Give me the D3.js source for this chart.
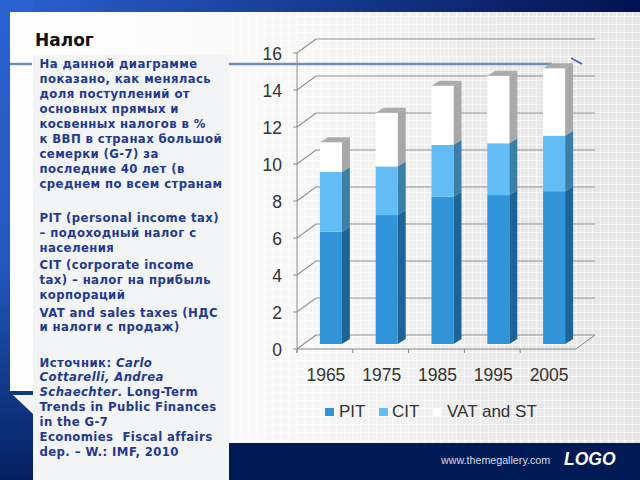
<!DOCTYPE html>
<html><head><meta charset="utf-8">
<script src="https://cdn.jsdelivr.net/npm/d3@7"></script>
<style>html,body{margin:0;padding:0;background:#fff}svg{display:block}</style>
</head><body><svg id="c" width="640" height="480"></svg>
<script>
const years = ["1965","1975","1985","1995","2005"];
const seriesNames = ["PIT","CIT","VAT and ST"];
const pit = [6.07,6.97,7.96,8.05,8.26];
const cit = [3.23,2.63,2.81,2.8,3.0];
const vat = [1.6,2.9,3.19,3.65,3.64];
const yTicks = [0,2,4,6,8,10,12,14,16];
const textBlocks = [
 [64,"На данной диаграмме"],[79,"показано, как менялась"],[94,"доля поступлений от"],[109,"основных прямых и"],[124,"косвенных налогов в %"],[139,"к ВВП в странах большой"],[154,"семерки (G-7) за"],[169,"последние 40 лет (в"],[184,"среднем по всем странам"],
 [218,"PIT (personal income tax)"],[233,"– подоходный налог с"],[248,"населения"],
 [265,"CIT (corporate income"],[280,"tax) – налог на прибыль"],[295,"корпораций"],
 [313,"VAT and sales taxes (НДС"],[327,"и налоги с продаж)"],
 [363,"Источник: |Carlo"],[377,"|Cottarelli, Andrea"],[392,"|Schaechter|. Long-Term"],[407,"Trends in Public Finances"],[422,"in the G-7"],[437,"Economies  Fiscal affairs"],[452,"dep. – W.: IMF, 2010"]
];
const colors = ["#3194d9","#62bdf7","#ffffff"];
const sideColors = ["#1d6396","#3b7ea8","#a8a8a8"];
const svg = d3.select("#c"), defs = svg.append("defs");
const g1 = defs.append("linearGradient").attr("id","top").attr("x1",0).attr("x2",1).attr("y1",0).attr("y2",0);
g1.append("stop").attr("offset",0).attr("stop-color","#2a62d2");
g1.append("stop").attr("offset",1).attr("stop-color","#03124f");
const g2 = defs.append("linearGradient").attr("id","left").attr("gradientUnits","userSpaceOnUse").attr("x1",0).attr("x2",0).attr("y1",0).attr("y2",480);
g2.append("stop").attr("offset",0).attr("stop-color","#2a62d2");
g2.append("stop").attr("offset",.55).attr("stop-color","#2258bf");
g2.append("stop").attr("offset",.85).attr("stop-color","#0f337f");
g2.append("stop").attr("offset",1).attr("stop-color","#04205f");
const g3 = defs.append("linearGradient").attr("id","page").attr("x1",0).attr("x2",1).attr("y1",0).attr("y2",0);
g3.append("stop").attr("offset",0).attr("stop-color","#ffffff");
g3.append("stop").attr("offset",.5).attr("stop-color","#f6f6f6");
g3.append("stop").attr("offset",.8).attr("stop-color","#e9e9e9");
g3.append("stop").attr("offset",1).attr("stop-color","#e6e6e6");
const pat = defs.append("pattern").attr("id","grid").attr("width",8).attr("height",8).attr("patternUnits","userSpaceOnUse");
pat.append("path").attr("d","M0 .5H8M.5 0V8").attr("stroke","#fff").attr("stroke-opacity",.6).attr("fill","none");
const fade = defs.append("linearGradient").attr("id","fade").attr("x1",0).attr("x2",1).attr("y1",0).attr("y2",0);
fade.append("stop").attr("offset",0).attr("stop-color","#000");
fade.append("stop").attr("offset",.5).attr("stop-color","#fff");
defs.append("mask").attr("id","fadeMask").attr("maskUnits","objectBoundingBox").append("rect").attr("x",0).attr("y",0).attr("width","100%").attr("height","100%").attr("fill","url(#fade)");

svg.append("rect").attr("width",640).attr("height",480).attr("fill","#001a55");
svg.append("rect").attr("width",640).attr("height",12).attr("fill","url(#top)");
svg.append("rect").attr("width",33).attr("height",480).attr("fill","url(#left)");
svg.append("rect").attr("x",10).attr("y",12).attr("width",630).attr("height",379).attr("fill","url(#page)");
svg.append("rect").attr("x",33).attr("y",12).attr("width",607).attr("height",431).attr("fill","url(#page)");
svg.append("rect").attr("x",229).attr("y",12).attr("width",411).attr("height",431).attr("fill","url(#grid)").attr("mask","url(#fadeMask)");
svg.append("path").attr("d","M12 392H33V395H12Z").attr("fill","#0f3a78");
svg.append("path").attr("d","M13 395H33V414Z").attr("fill","#f3f4f6");
svg.append("rect").attr("x",33).attr("y",443).attr("width",607).attr("height",37).attr("fill","#001a55");
// header rule
svg.append("path").attr("d","M10 64H32M229 64H552").attr("stroke","#6f8fb8").attr("stroke-width",2.4);
svg.append("path").attr("d","M571 58L582 64").attr("stroke","#4a60b8").attr("stroke-width",1.6).attr("fill","none");
// text panel
svg.append("rect").attr("x",33).attr("y",55).attr("width",196).attr("height",425).attr("fill","#f3f4f6");
svg.append("text").attr("x",35).attr("y",46).attr("font-family","DejaVu Sans").attr("font-weight","bold").attr("font-size",17).attr("fill","#111").text("Налог");
const tx = svg.append("g").attr("font-family","DejaVu Sans").attr("font-weight","bold").attr("font-size",11.7).attr("letter-spacing",.4).attr("fill","#1f3a8f");
textBlocks.forEach(([y,s])=>{
  const t = tx.append("text").attr("x",39.5).attr("y",y+4).style("white-space","pre");
  s.split("|").forEach((p,i)=>{
    let italic = s.startsWith("|") ? i===1 : (s.startsWith("Источник") && i===1);
    t.append("tspan").attr("font-style",italic?"italic":"normal").text(p);
  });
});
// chart geometry
const x0=297,x1=576,dx=19,dy=14,barDx=8,barDy=5;
const y = d3.scaleLinear().domain([0,16]).range([349,53]);
const x = d3.scaleBand().domain(years).range([x0,x1]);
const chart = svg.append("g");
const font = "Liberation Sans";
yTicks.forEach(v=>{
  chart.append("path").attr("d",`M${x0-4} ${y(v)}H${x0}L${x0+dx} ${y(v)-dy}H${x1+dx}`).attr("fill","none").attr("stroke","#8f8f8f").attr("stroke-width",1.2);
});
chart.append("path").attr("d",`M${x0} ${y(16)}V${y(0)+4}M${x0} ${y(0)}H${x1}L${x1+dx} ${y(0)-dy}`).attr("fill","none").attr("stroke","#8a8a8a");
years.forEach(d=>chart.append("path").attr("d",`M${x(d)} ${y(0)}v4`).attr("stroke","#8a8a8a"));
// bars
const stack = d3.stack().keys([0,1,2]).value((d,k)=>d[k])(years.map((_,i)=>[pit[i],cit[i],vat[i]]));
const barW = 22, off = 5, inset = 6;
const by = v=>y(v)-off;
stack.forEach((layer,k)=>{
  layer.forEach((d,i)=>{
    const xl = x(years[i])+(x.bandwidth()-barW)/2+inset, xr = xl+barW;
    chart.append("path").attr("fill",sideColors[k]).attr("d",`M${xr} ${by(d[1])}L${xr+barDx} ${by(d[1])-barDy}V${by(d[0])-barDy}L${xr} ${by(d[0])}Z`);
    chart.append("rect").attr("x",xl).attr("y",by(d[1])).attr("width",barW).attr("height",by(d[0])-by(d[1])).attr("fill",colors[k]);
    if(k===2) chart.append("path").attr("fill","#ababab").attr("d",`M${xl} ${by(d[1])}L${xl+barDx} ${by(d[1])-barDy}H${xr+barDx}L${xr} ${by(d[1])}Z`);
  });
});
// axis labels
const yl = chart.append("g").attr("font-family",font).attr("font-size",17.5).attr("fill","#333").attr("text-anchor","end");
yTicks.forEach(v=>yl.append("text").attr("x",282).attr("y",y(v)+6.5).text(v));
const xl = chart.append("g").attr("font-family",font).attr("font-size",17.5).attr("fill","#333").attr("text-anchor","middle");
years.forEach(d=>xl.append("text").attr("x",x(d)+x.bandwidth()/2+1).attr("y",381).text(d));
// legend
const legendX=[325,379,433], legendT=[339,392,447];
seriesNames.forEach((n,i)=>{
  chart.append("rect").attr("x",legendX[i]).attr("y",408).attr("width",9).attr("height",8).attr("fill",colors[i]);
  chart.append("text").attr("x",legendT[i]).attr("y",417).attr("font-family",font).attr("font-size",17).attr("fill","#333").text(n);
});
// footer
svg.append("text").attr("x",441).attr("y",464).attr("font-family","Liberation Sans").attr("font-size",10.7).attr("fill","#d8dce8").text("www.themegallery.com");
svg.append("text").attr("x",564).attr("y",465).attr("font-family","Liberation Sans").attr("font-weight","bold").attr("font-style","italic").attr("font-size",17.5).attr("fill","#fff").text("LOGO");
</script></body></html>
